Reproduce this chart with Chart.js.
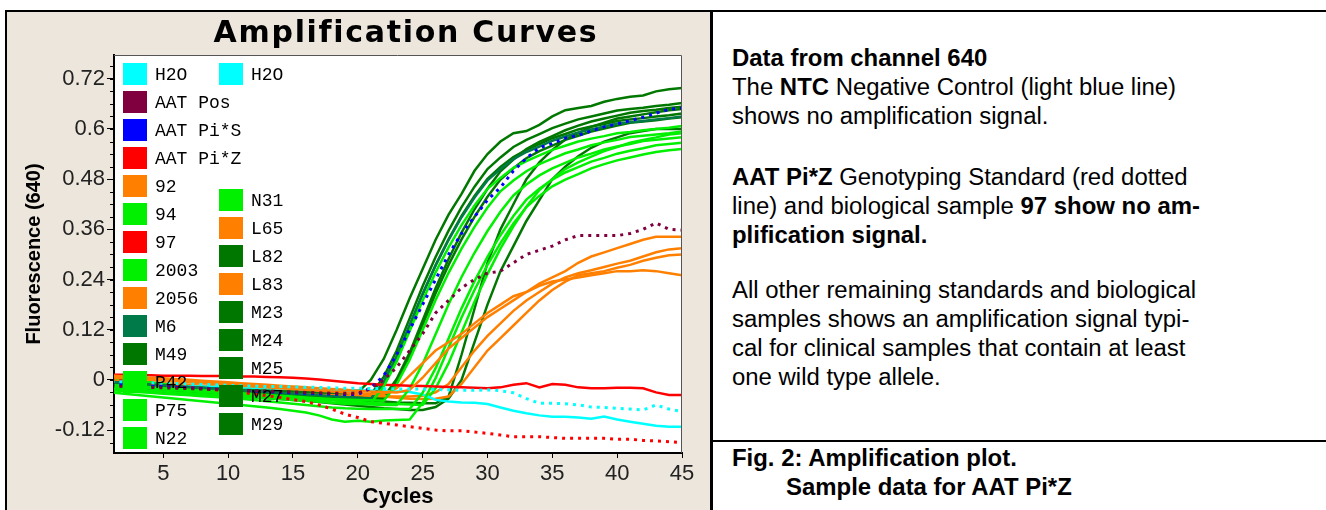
<!DOCTYPE html>
<html lang="en">
<head>
<meta charset="UTF-8">
<title>Amplification Curves</title>
<script src="https://cdn.jsdelivr.net/npm/chart.js"></script>
<style>
    body {
        margin: 0;
        width: 1326px;
        height: 510px;
        overflow: hidden;
        background: #fff;
        position: relative;
        font-family: "Liberation Sans", Arial, sans-serif;
    }
    #panel { position: absolute; left: 7px; top: 12px; width: 703px; height: 498px; background: #ede6dc; }
    #wrap { position: absolute; left: 0; top: 0; width: 713px; height: 510px; }
    .line { position: absolute; background: #000; }
    .txt {
        position: absolute;
        left: 732px;
        font-size: 23px;
        line-height: 29px;
        white-space: nowrap;
        color: #000;
        transform: scaleX(1.04);
        transform-origin: left top;
    }
</style>
</head>
<body>
<div id="panel"></div>
<div id="wrap"><canvas id="chart" width="713" height="510"></canvas></div>

<div class="line" style="left:5px; top:10px; width:1321px; height:2px;"></div>
<div class="line" style="left:5px; top:10px; width:2px; height:500px;"></div>
<div class="line" style="left:710px; top:10px; width:3px; height:500px;"></div>
<div class="line" style="left:713px; top:440px; width:613px; height:2px;"></div>

<div class="txt" style="top:44px;"><b>Data from channel 640</b><br>The <b>NTC</b> Negative Control (light blue line)<br>shows no amplification signal.</div>
<div class="txt" style="top:163px;"><b>AAT Pi*Z</b> Genotyping Standard (red dotted<br>line) and biological sample <b>97 show no am-</b><br><b>plification signal.</b></div>
<div class="txt" style="top:276px;">All other remaining standards and biological<br>samples shows an amplification signal typi-<br>cal for clinical samples that contain at least<br>one wild type allele.</div>
<div class="txt" style="top:444px;"><b>Fig. 2: Amplification plot.</b></div>
<div class="txt" style="top:473px; left:786px;"><b>Sample data for AAT Pi*Z</b></div>

<script>
// cycles 1..45
const cycles = [1,2,3,4,5,6,7,8,9,10,11,12,13,14,15,16,17,18,19,20,
    21,22,23,24,25,26,27,28,29,30,31,32,33,34,35,36,37,38,39,40,41,42,43,44,45];
const xTicks = [5, 10, 15, 20, 25, 30, 35, 40, 45];
const yTicks = [-0.12, 0, 0.12, 0.24, 0.36, 0.48, 0.6, 0.72];

// fluorescence (640) per cycle
const h2oA = [-0.010,-0.011,-0.012,-0.013,-0.014,-0.015,-0.016,-0.016,-0.017,-0.018,
    -0.019,-0.020,-0.021,-0.021,-0.022,-0.023,-0.024,-0.024,-0.025,-0.025,
    -0.026,-0.027,-0.028,-0.029,-0.035,-0.048,-0.052,-0.054,-0.055,-0.058,
    -0.066,-0.074,-0.080,-0.085,-0.088,-0.088,-0.090,-0.093,-0.088,-0.095,
    -0.100,-0.105,-0.110,-0.112,-0.112];
const h2oB = [-0.004,-0.005,-0.006,-0.007,-0.008,-0.009,-0.010,-0.011,-0.012,-0.013,
    -0.014,-0.015,-0.016,-0.016,-0.017,-0.018,-0.018,-0.019,-0.020,-0.020,
    -0.021,-0.021,-0.022,-0.022,-0.022,-0.023,-0.024,-0.025,-0.025,-0.024,
    -0.026,-0.031,-0.045,-0.056,-0.056,-0.057,-0.060,-0.065,-0.066,-0.068,
    -0.070,-0.072,-0.060,-0.070,-0.076];
const aatPos = [-0.015,-0.016,-0.017,-0.018,-0.019,-0.020,-0.021,-0.022,-0.023,-0.024,
    -0.025,-0.026,-0.027,-0.028,-0.029,-0.030,-0.031,-0.032,-0.032,-0.032,
    -0.020,0.000,0.030,0.070,0.110,0.160,0.190,0.220,0.240,0.255,
    0.260,0.280,0.300,0.310,0.320,0.335,0.345,0.345,0.345,0.345,
    0.350,0.360,0.375,0.360,0.358];
const aatPiS = [-0.010,-0.012,-0.013,-0.015,-0.016,-0.018,-0.019,-0.021,-0.022,-0.024,
    -0.025,-0.027,-0.028,-0.030,-0.031,-0.032,-0.033,-0.034,-0.035,-0.035,
    -0.020,0.010,0.060,0.120,0.180,0.240,0.300,0.350,0.390,0.430,
    0.460,0.500,0.530,0.555,0.565,0.578,0.585,0.595,0.605,0.612,
    0.620,0.628,0.638,0.647,0.650];
const aatPiZ = [0.000,-0.003,-0.006,-0.009,-0.012,-0.015,-0.018,-0.021,-0.024,-0.027,
    -0.030,-0.034,-0.038,-0.042,-0.047,-0.052,-0.060,-0.070,-0.082,-0.090,
    -0.100,-0.104,-0.108,-0.112,-0.116,-0.120,-0.122,-0.122,-0.125,-0.128,
    -0.132,-0.136,-0.136,-0.136,-0.138,-0.140,-0.140,-0.140,-0.140,-0.142,
    -0.142,-0.145,-0.146,-0.148,-0.150];
const s92 = [0.010,0.008,0.006,0.005,0.004,0.002,0.000,-0.002,-0.004,-0.006,
    -0.008,-0.010,-0.012,-0.014,-0.016,-0.018,-0.020,-0.022,-0.024,-0.026,
    -0.028,-0.029,-0.030,-0.024,0.005,0.040,0.075,0.100,0.125,0.150,
    0.170,0.190,0.210,0.230,0.245,0.260,0.280,0.295,0.305,0.315,
    0.325,0.335,0.342,0.342,0.342];
const s94 = [-0.020,-0.022,-0.024,-0.026,-0.028,-0.030,-0.032,-0.034,-0.036,-0.038,
    -0.040,-0.042,-0.044,-0.046,-0.048,-0.050,-0.052,-0.054,-0.055,-0.056,
    -0.056,-0.016,0.044,0.117,0.190,0.257,0.317,0.370,0.417,0.457,
    0.483,0.507,0.523,0.537,0.550,0.560,0.570,0.577,0.583,0.590,
    0.593,0.597,0.600,0.603,0.607];
const s97 = [0.012,0.012,0.011,0.011,0.010,0.010,0.010,0.009,0.009,0.009,
    0.008,0.008,0.007,0.006,0.005,0.003,0.001,-0.002,-0.005,-0.008,
    -0.010,-0.012,-0.013,-0.014,-0.015,-0.016,-0.017,-0.018,-0.019,-0.020,
    -0.018,-0.012,-0.008,-0.018,-0.010,-0.012,-0.018,-0.020,-0.020,-0.019,
    -0.019,-0.020,-0.030,-0.036,-0.036];
const s2003 = [-0.012,-0.014,-0.016,-0.018,-0.020,-0.022,-0.024,-0.026,-0.028,-0.030,
    -0.032,-0.034,-0.036,-0.038,-0.040,-0.042,-0.044,-0.046,-0.047,-0.048,
    -0.049,-0.050,-0.011,0.048,0.119,0.191,0.256,0.314,0.366,0.412,
    0.451,0.477,0.499,0.516,0.529,0.542,0.551,0.561,0.568,0.574,
    0.581,0.584,0.587,0.590,0.594];
const s2056 = [0.005,0.004,0.002,0.000,-0.002,-0.004,-0.006,-0.008,-0.010,-0.012,
    -0.014,-0.016,-0.018,-0.020,-0.022,-0.024,-0.026,-0.028,-0.030,-0.032,
    -0.033,-0.034,-0.020,0.010,0.040,0.070,0.090,0.110,0.135,0.160,
    0.180,0.200,0.210,0.225,0.235,0.240,0.245,0.250,0.255,0.260,
    0.260,0.262,0.260,0.255,0.250];
const m6 = [-0.005,-0.007,-0.009,-0.011,-0.013,-0.015,-0.017,-0.019,-0.021,-0.023,
    -0.025,-0.027,-0.029,-0.031,-0.033,-0.035,-0.037,-0.039,-0.041,-0.043,
    -0.045,-0.004,0.057,0.131,0.206,0.274,0.335,0.389,0.436,0.477,
    0.504,0.528,0.545,0.558,0.572,0.582,0.592,0.599,0.606,0.613,
    0.616,0.619,0.623,0.626,0.630];
const m49 = [-0.008,-0.010,-0.012,-0.013,-0.015,-0.016,-0.018,-0.019,-0.021,-0.022,
    -0.024,-0.025,-0.026,-0.027,-0.028,-0.029,-0.030,-0.031,-0.032,-0.030,
    0.000,0.050,0.120,0.195,0.265,0.335,0.395,0.445,0.500,0.540,
    0.570,0.590,0.595,0.610,0.630,0.645,0.650,0.655,0.665,0.672,
    0.677,0.680,0.690,0.695,0.698];
const p42 = [0.005,0.002,-0.002,-0.006,-0.010,-0.014,-0.018,-0.022,-0.026,-0.030,
    -0.034,-0.037,-0.040,-0.043,-0.046,-0.049,-0.052,-0.055,-0.057,-0.058,
    -0.059,-0.060,-0.060,-0.021,0.038,0.109,0.181,0.246,0.304,0.356,
    0.402,0.441,0.467,0.489,0.506,0.519,0.532,0.541,0.551,0.558,
    0.564,0.571,0.574,0.577,0.580];
const p75 = [-0.025,-0.027,-0.029,-0.031,-0.033,-0.035,-0.037,-0.039,-0.041,-0.043,
    -0.045,-0.048,-0.051,-0.054,-0.057,-0.060,-0.063,-0.066,-0.068,-0.069,
    -0.070,-0.070,-0.070,-0.070,-0.031,0.028,0.099,0.171,0.236,0.294,
    0.346,0.392,0.431,0.457,0.479,0.496,0.509,0.522,0.531,0.541,
    0.548,0.554,0.561,0.564,0.567];
const n22 = [-0.030,-0.033,-0.036,-0.039,-0.042,-0.045,-0.048,-0.051,-0.054,-0.057,
    -0.060,-0.063,-0.066,-0.070,-0.074,-0.078,-0.085,-0.095,-0.100,-0.098,
    -0.100,-0.097,-0.096,-0.095,-0.055,0.004,0.077,0.149,0.215,0.275,
    0.327,0.374,0.413,0.440,0.463,0.479,0.492,0.506,0.516,0.525,
    0.532,0.539,0.545,0.549,0.552];
const n31 = [-0.015,-0.017,-0.019,-0.021,-0.023,-0.025,-0.027,-0.029,-0.031,-0.033,
    -0.035,-0.037,-0.039,-0.041,-0.043,-0.045,-0.047,-0.049,-0.051,-0.053,
    -0.055,-0.057,-0.058,-0.059,-0.060,-0.020,0.040,0.113,0.187,0.253,
    0.314,0.367,0.414,0.454,0.480,0.504,0.520,0.534,0.547,0.557,
    0.567,0.574,0.580,0.587,0.590];
const l65 = [0.000,-0.002,-0.004,-0.006,-0.008,-0.010,-0.012,-0.014,-0.016,-0.018,
    -0.020,-0.022,-0.024,-0.026,-0.028,-0.030,-0.032,-0.034,-0.036,-0.037,
    -0.038,-0.039,-0.040,-0.040,-0.038,-0.030,-0.010,0.030,0.070,0.105,
    0.135,0.165,0.190,0.210,0.230,0.245,0.255,0.262,0.270,0.278,
    0.285,0.295,0.305,0.312,0.315];
const l82 = [-0.002,-0.004,-0.006,-0.008,-0.010,-0.012,-0.014,-0.016,-0.018,-0.020,
    -0.022,-0.024,-0.026,-0.028,-0.030,-0.032,-0.034,-0.036,-0.038,-0.039,
    -0.040,-0.041,0.002,0.065,0.142,0.219,0.289,0.352,0.408,0.457,
    0.499,0.527,0.552,0.569,0.583,0.597,0.608,0.618,0.625,0.632,
    0.639,0.643,0.646,0.650,0.653];
const l83 = [0.008,0.006,0.004,0.002,0.000,-0.002,-0.004,-0.006,-0.008,-0.010,
    -0.012,-0.014,-0.016,-0.018,-0.020,-0.022,-0.025,-0.028,-0.031,-0.034,
    -0.037,-0.040,-0.043,-0.045,-0.046,-0.045,-0.040,-0.010,0.030,0.070,
    0.100,0.130,0.160,0.190,0.215,0.235,0.250,0.255,0.260,0.268,
    0.275,0.285,0.292,0.298,0.300];
const m23 = [-0.012,-0.013,-0.014,-0.015,-0.016,-0.018,-0.019,-0.020,-0.022,-0.023,
    -0.024,-0.026,-0.027,-0.028,-0.029,-0.030,-0.031,-0.032,-0.033,-0.034,
    -0.035,0.007,0.070,0.147,0.224,0.294,0.357,0.413,0.462,0.504,
    0.532,0.557,0.574,0.588,0.602,0.613,0.623,0.630,0.637,0.644,
    0.648,0.651,0.655,0.658,0.662];
const m24 = [-0.018,-0.020,-0.021,-0.023,-0.025,-0.026,-0.028,-0.030,-0.031,-0.033,
    -0.035,-0.036,-0.038,-0.040,-0.041,-0.043,-0.045,-0.046,-0.048,-0.049,
    -0.050,-0.009,0.054,0.129,0.205,0.274,0.336,0.392,0.440,0.481,
    0.509,0.533,0.550,0.564,0.578,0.588,0.599,0.606,0.612,0.619,
    0.623,0.626,0.630,0.633,0.637];
const m25 = [-0.020,-0.021,-0.022,-0.023,-0.024,-0.025,-0.026,-0.027,-0.028,-0.029,
    -0.030,-0.031,-0.032,-0.034,-0.036,-0.038,-0.040,-0.042,-0.043,-0.044,
    -0.045,-0.045,-0.004,0.057,0.132,0.207,0.275,0.336,0.390,0.438,
    0.479,0.506,0.530,0.547,0.560,0.574,0.584,0.594,0.601,0.608,
    0.615,0.618,0.621,0.625,0.628];
const m27 = [-0.010,-0.012,-0.014,-0.016,-0.018,-0.020,-0.022,-0.024,-0.026,-0.028,
    -0.030,-0.032,-0.034,-0.036,-0.038,-0.040,-0.042,-0.044,-0.046,-0.048,
    -0.050,-0.052,-0.054,-0.055,-0.056,-0.056,-0.040,0.060,0.170,0.280,
    0.360,0.420,0.480,0.520,0.550,0.575,0.590,0.605,0.615,0.625,
    0.630,0.635,0.640,0.645,0.648];
const m29 = [-0.020,-0.022,-0.024,-0.026,-0.028,-0.030,-0.032,-0.034,-0.036,-0.038,
    -0.040,-0.042,-0.044,-0.046,-0.048,-0.050,-0.053,-0.056,-0.059,-0.062,
    -0.065,-0.068,-0.070,-0.072,-0.072,-0.065,-0.045,0.000,0.090,0.180,
    0.260,0.320,0.380,0.430,0.480,0.510,0.535,0.555,0.570,0.580,
    0.590,0.595,0.600,0.600,0.600];

const CYAN = '#00ffff', MAROON = '#80003f', BLUE = '#0000ff', RED = '#ff0000',
      ORANGE = '#ff8000', LIME = '#00f000', TEAL = '#007a48', DARK = '#007800';

// legend order: first column, then second column
const series = [
    ['H2O', h2oB, CYAN, true], ['AAT Pos', aatPos, MAROON, true], ['AAT Pi*S', aatPiS, BLUE, true],
    ['AAT Pi*Z', aatPiZ, RED, true], ['92', s92, ORANGE], ['94', s94, LIME], ['97', s97, RED],
    ['2003', s2003, LIME], ['2056', s2056, ORANGE], ['M6', m6, TEAL], ['M49', m49, DARK],
    ['P42', p42, LIME], ['P75', p75, LIME], ['N22', n22, LIME],
    ['H2O', h2oA, CYAN], ['N31', n31, LIME], ['L65', l65, ORANGE], ['L82', l82, DARK],
    ['L83', l83, ORANGE], ['M23', m23, DARK], ['M24', m24, DARK], ['M25', m25, DARK],
    ['M27', m27, DARK], ['M29', m29, DARK]
];
const firstColumn = 14;

const datasets = series.map(([name, vals, color, dotted]) => ({
    label: name,
    data: cycles.map((c, i) => ({ x: c, y: vals[i] })),
    borderColor: color,
    backgroundColor: color,
    borderWidth: dotted ? 3 : 2.5,
    borderDash: dotted ? [3, 5] : [],
    pointRadius: 0,
    tension: 0,
    fill: false
}));

// white plot area
const plotBg = {
    id: 'plotBg',
    beforeDraw(chart) {
        const { ctx, chartArea: a } = chart;
        ctx.save();
        ctx.fillStyle = '#fff';
        ctx.fillRect(a.left, a.top, a.right - a.left, a.bottom - a.top);
        ctx.restore();
    }
};

// title, legend, frame, minor ticks
const decor = {
    id: 'decor',
    afterDatasetsDraw(chart) {
        const { ctx, chartArea: a } = chart;
        ctx.save();
        // legend
        ctx.font = '18px "Liberation Mono", "Courier New", monospace';
        ctx.textBaseline = 'middle';
        ctx.textAlign = 'left';
        series.forEach((s, i) => {
            let x, y;
            if (i < firstColumn) {
                x = a.left + 9; y = a.top + 19 + i * 28;
            } else {
                const r = i - firstColumn;
                x = a.left + 105; y = a.top + 19 + (r === 0 ? 0 : (3.5 + r) * 28);
            }
            ctx.fillStyle = s[2];
            ctx.fillRect(x, y - 11, 24, 22);
            ctx.fillStyle = '#000';
            ctx.fillText(s[0], x + 32, y + 1);
        });
        ctx.restore();
    },
    afterDraw(chart) {
        const { ctx, chartArea: a } = chart;
        const ys = chart.scales.y;
        ctx.save();
        // plot frame top/right
        ctx.strokeStyle = '#555';
        ctx.lineWidth = 1;
        ctx.beginPath();
        ctx.moveTo(a.left, a.top + 0.5);
        ctx.lineTo(a.right - 0.5, a.top + 0.5);
        ctx.lineTo(a.right - 0.5, a.bottom);
        ctx.stroke();
        // minor y ticks
        ctx.strokeStyle = '#000';
        ctx.beginPath();
        for (let v = -0.15; v < 0.77; v += 0.03) {
            const py = Math.round(ys.getPixelForValue(v)) + 0.5;
            ctx.moveTo(a.left - 4, py);
            ctx.lineTo(a.left, py);
        }
        ctx.stroke();
        // title
        ctx.fillStyle = '#000';
        ctx.font = 'bold 30px "DejaVu Sans", sans-serif';
        ctx.letterSpacing = '1.7px';
        ctx.textAlign = 'center';
        ctx.textBaseline = 'alphabetic';
        ctx.fillText('Amplification Curves', 406, 42);
        ctx.restore();
    }
};

new Chart(document.getElementById('chart'), {
    type: 'line',
    data: { datasets },
    options: {
        responsive: false,
        animation: false,
        layout: { padding: { left: 0, top: 55, right: 31, bottom: 0 } },
        plugins: { legend: { display: false }, tooltip: { enabled: false } },
        scales: {
            x: {
                type: 'linear',
                min: 1.2,
                max: 45,
                afterFit(s) { s.height = 57; },
                afterBuildTicks(s) { s.ticks = xTicks.map(v => ({ value: v })); },
                grid: { drawOnChartArea: false, tickLength: 5, color: '#000' },
                border: { color: '#000', width: 2 },
                ticks: { color: '#222', padding: 3, maxRotation: 0,
                         font: { family: '"Liberation Sans", Arial', size: 22 } },
                title: { display: true, text: 'Cycles', color: '#000', padding: { top: 0, bottom: 0 },
                         font: { family: '"Liberation Sans", Arial', size: 22, weight: 'bold' } }
            },
            y: {
                type: 'linear',
                min: -0.175,
                max: 0.777,
                afterFit(s) { s.width = 114; },
                afterBuildTicks(s) { s.ticks = yTicks.map(v => ({ value: v })); },
                grid: { drawOnChartArea: false, tickLength: 7, color: '#000' },
                border: { color: '#000', width: 2 },
                ticks: { color: '#222', padding: 2, callback: v => String(v),
                         font: { family: '"Liberation Sans", Arial', size: 22 } },
                title: { display: true, text: 'Fluorescence (640)', color: '#000', padding: { top: 22, bottom: 0 },
                         font: { family: '"Liberation Sans", Arial', size: 20, weight: 'bold' } }
            }
        }
    },
    plugins: [plotBg, decor]
});
</script>
</body>
</html>
